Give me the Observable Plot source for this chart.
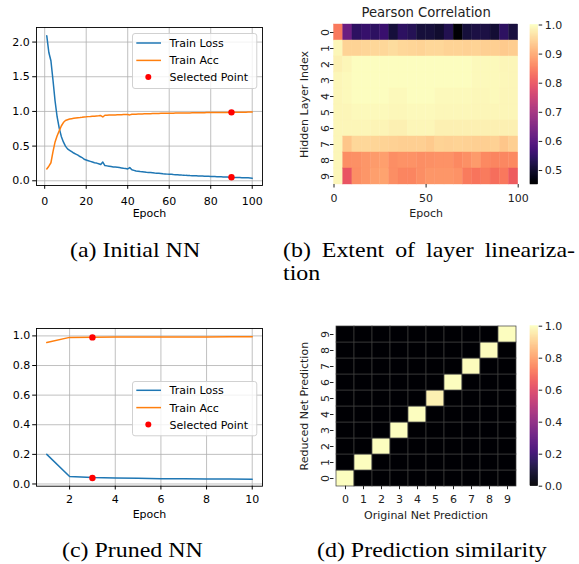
<!DOCTYPE html>
<html><head><meta charset="utf-8">
<script src="https://cdn.jsdelivr.net/npm/d3@7"></script>
<script src="https://cdn.jsdelivr.net/npm/@observablehq/plot@0.6"></script>
<style>
body{margin:0;background:#fff;}
#root{position:relative;width:579px;height:564px;overflow:hidden;background:#fff;}
.cap{position:absolute;font-family:"Liberation Serif";font-size:20.7px;line-height:21px;color:#000;white-space:nowrap;transform-origin:0 0;transform:scaleX(1.156);}
svg text{font-family:"DejaVu Sans";}
</style></head><body><div id="root"></div>
<script>
// ---------- data ----------
const lossA = [2.09,1.85,1.73,1.45,1.15,0.92,0.76,0.64,0.56,0.50,
  0.46,0.44,0.42,0.40,0.385,0.37,0.35,0.335,0.31,0.30,
  0.29,0.28,0.27,0.26,0.255,0.245,0.235,0.27,0.22,0.215,
  0.21,0.205,0.20,0.198,0.195,0.19,0.185,0.18,0.176,0.17,
  0.19,0.16,0.15,0.14,0.137,0.133,0.13,0.127,0.123,0.12,
  0.118,0.115,0.112,0.11,0.107,0.104,0.10,0.098,0.096,0.094,
  0.093,0.09,0.088,0.087,0.084,0.082,0.081,0.078,0.077,0.075,
  0.074,0.073,0.072,0.07,0.069,0.068,0.066,0.065,0.064,0.062,
  0.061,0.06,0.059,0.058,0.057,0.056,0.055,0.054,0.052,0.05,
  0.049,0.048,0.047,0.046,0.045,0.044,0.043,0.042,0.040,0.038];
const accA = [0.17,0.21,0.26,0.42,0.56,0.65,0.72,0.79,0.84,0.87,
  0.88,0.89,0.895,0.90,0.905,0.91,0.912,0.915,0.92,0.922,
  0.925,0.927,0.93,0.932,0.934,0.936,0.94,0.92,0.945,0.946,
  0.947,0.948,0.949,0.95,0.951,0.952,0.953,0.954,0.955,0.956,
  0.95,0.958,0.96,0.961,0.962,0.963,0.964,0.965,0.966,0.967,
  0.968,0.969,0.97,0.971,0.971,0.972,0.972,0.973,0.973,0.974,
  0.975,0.975,0.976,0.976,0.977,0.977,0.978,0.978,0.979,0.979,
  0.98,0.98,0.98,0.981,0.981,0.982,0.982,0.983,0.983,0.984,
  0.984,0.984,0.985,0.985,0.985,0.986,0.986,0.986,0.987,0.987,
  0.987,0.988,0.988,0.988,0.989,0.989,0.989,0.99,0.99,0.99];
const selectedA = [{epoch: 90, value: 0.987}, {epoch: 90, value: 0.05}];
const ticksAx = [0, 20, 40, 60, 80, 100];
const ticksAy = [0.0, 0.5, 1.0, 1.5, 2.0];

const epochsC = [1,2,3,4,5,6,7,8,9,10];
const lossC = [0.20,0.05,0.043,0.04,0.038,0.036,0.035,0.034,0.033,0.032];
const accC = [0.955,0.99,0.991,0.992,0.992,0.993,0.993,0.993,0.994,0.994];
const selectedC = [{epoch: 3, value: 0.99}, {epoch: 3, value: 0.04}];
const ticksCx = [2, 4, 6, 8, 10];
const ticksCy = [0.0, 0.2, 0.4, 0.6, 0.8, 1.0];

const epochBins = [0,5,10,15,20,25,30,35,40,45,50,55,60,65,70,75,80,85,90,95];
const layers = [0,1,2,3,4,5,6,7,8,9];
const pearson = [
  [0.847,0.627,0.545,0.556,0.545,0.56,0.51,0.545,0.534,0.51,0.51,0.50,0.53,0.452,0.51,0.52,0.52,0.505,0.545,0.515],
  [0.99,0.95,0.95,0.952,0.955,0.955,0.96,0.955,0.952,0.95,0.955,0.955,0.95,0.95,0.948,0.95,0.945,0.945,0.94,0.943],
  [0.985,0.99,0.998,0.998,1,1,1,1,1,1,1,1,0.998,0.998,0.998,0.995,0.995,0.995,0.99,0.99],
  [0.99,0.995,0.998,0.998,0.998,1,1,1,1,1,1,0.998,0.998,0.998,0.998,0.995,0.995,0.995,0.992,0.99],
  [0.99,0.995,0.998,0.998,0.998,0.998,0.995,0.995,0.998,0.998,0.998,0.995,0.995,0.995,0.995,0.992,0.992,0.995,0.99,0.99],
  [0.99,0.99,0.995,0.995,0.995,0.995,0.992,0.992,0.995,0.995,0.995,0.992,0.992,0.992,0.992,0.99,0.99,0.99,0.99,0.99],
  [0.99,0.99,0.99,0.99,0.988,0.988,0.985,0.985,0.99,0.99,0.99,0.985,0.985,0.985,0.985,0.985,0.985,0.985,0.985,0.985],
  [0.99,0.935,0.955,0.955,0.952,0.95,0.948,0.945,0.945,0.945,0.94,0.95,0.948,0.95,0.948,0.945,0.945,0.948,0.935,0.945],
  [0.99,0.87,0.872,0.88,0.885,0.89,0.87,0.875,0.875,0.87,0.872,0.875,0.875,0.865,0.872,0.885,0.865,0.86,0.862,0.865],
  [0.99,0.80,0.87,0.88,0.89,0.895,0.87,0.86,0.86,0.87,0.88,0.88,0.88,0.875,0.85,0.84,0.85,0.835,0.845,0.81]
];
const pearsonTicks = [0.5, 0.6, 0.7, 0.8, 0.9, 1.0];
const pearsonDomain = [0.452, 1.0];

const digits = [0,1,2,3,4,5,6,7,8,9];
const similarity = [ // rows: reduced prediction 0..9, cols: original prediction 0..9
  [1.0,0,0,0,0,0,0,0,0,0],
  [0,1.0,0,0,0,0,0,0,0,0],
  [0,0,1.0,0,0,0,0,0,0,0],
  [0,0,0,1.0,0,0,0,0,0,0],
  [0,0,0,0,1.0,0,0,0,0,0],
  [0,0,0,0,0,0.97,0,0,0,0],
  [0,0,0,0,0,0,1.0,0,0,0],
  [0,0,0,0,0,0,0,0.995,0,0],
  [0,0,0,0,0,0,0,0,0.995,0],
  [0,0,0,0,0,0,0,0,0,1.0]
];
const simTicks = [0.0, 0.2, 0.4, 0.6, 0.8, 1.0];
const simDomain = [0, 1];

const legendLabels = ["Train Loss", "Train Acc", "Selected Point"];
const captions = ["(a) Initial NN", "(b) Extent of layer lineariza-", "tion", "(c) Pruned NN", "(d) Prediction similarity"];

// ---------- helpers ----------
const root = document.getElementById("root");
function place(node, left, top) {
  node.style.position = "absolute";
  node.style.left = left + "px";
  node.style.top = top + "px";
  root.appendChild(node);
}
const baseStyle = {fontFamily: "DejaVu Sans", fontSize: "11px", background: "transparent", color: "#000", overflow: "visible"};
const BLUE = "#1f77b4", ORANGE = "#ff7f0e";
const fmt1 = d3.format(".1f");

function lineChart({loss, acc, epochs, sel, xDomain, yDomain, xt, yt, mt, mb, xPad, yPad, labelDy}) {
  const rows = epochs.map((e, i) => ({epoch: e, loss: loss[i], acc: acc[i]}));
  return Plot.plot({
    width: 270, height: 225, marginLeft: 36, marginRight: 8, marginTop: mt, marginBottom: mb,
    style: baseStyle,
    x: {domain: xDomain}, y: {domain: yDomain},
    marks: [
      Plot.gridX(xt, {stroke: "#b0b0b0", strokeOpacity: 1, strokeWidth: 0.8}),
      Plot.gridY(yt, {stroke: "#b0b0b0", strokeOpacity: 1, strokeWidth: 0.8}),
      Plot.lineY(rows, {x: "epoch", y: "loss", stroke: BLUE, strokeWidth: 1.5}),
      Plot.lineY(rows, {x: "epoch", y: "acc", stroke: ORANGE, strokeWidth: 1.5}),
      Plot.dot(sel, {x: "epoch", y: "value", fill: "red", r: 3.2}),
      Plot.frame({stroke: "#000", strokeWidth: 0.9}),
      Plot.axisX(xt, {tickSize: 3.8, tickPadding: xPad, label: null, tickFormat: d => String(d)}),
      Plot.axisY(yt, {tickSize: 3.8, tickPadding: yPad, label: null, tickFormat: fmt1}),
      Plot.text(["Epoch"], {frameAnchor: "bottom", lineAnchor: "middle", dy: labelDy, fontSize: 11})
    ]
  });
}

function legendBox(left, top, w, h, ys) {
  const ns = "http://www.w3.org/2000/svg";
  const svg = document.createElementNS(ns, "svg");
  svg.setAttribute("width", w + 2); svg.setAttribute("height", h + 2);
  const lx = 4.3, lx2 = 29, tx = 37.6, dx = 16.3;
  let s = `<rect x="0.5" y="0.5" width="${w}" height="${h}" rx="2.5" fill="rgba(255,255,255,0.8)" stroke="#cccccc" stroke-width="0.9"/>`;
  s += `<line x1="${lx}" x2="${lx2}" y1="${ys[0]}" y2="${ys[0]}" stroke="${BLUE}" stroke-width="1.5"/>`;
  s += `<line x1="${lx}" x2="${lx2}" y1="${ys[1]}" y2="${ys[1]}" stroke="${ORANGE}" stroke-width="1.5"/>`;
  s += `<circle cx="${dx}" cy="${ys[2]}" r="3" fill="red"/>`;
  legendLabels.forEach((t, i) => {
    s += `<text x="${tx}" y="${ys[i]}" dy="0.36em" font-size="11" fill="#000">${t}</text>`;
  });
  svg.innerHTML = s;
  place(svg, left, top);
}

function heatmap({cells, xOpt, yDomain, colorDomain, mt, mb, xAxis, yLabel, xLabel, title}) {
  const marks = [
    cells.mark,
    xAxis,
    Plot.axisY(yDomain, {tickSize: 3.5, tickPadding: 2, tickRotate: -90, label: null}),
    Plot.text([xLabel], {frameAnchor: "bottom", lineAnchor: "middle", dy: 29, fontSize: 11}),
    Plot.text([yLabel], {frameAnchor: "left", textAnchor: "middle", lineAnchor: "middle", rotate: -90, dx: -30, fontSize: 11})
  ];
  if (title) marks.push(Plot.text([title], {frameAnchor: "top", lineAnchor: "middle", dy: -12, fontSize: 13.2}));
  return Plot.plot({
    width: 235, height: 225, marginLeft: 43.5, marginRight: 7.3, marginTop: mt, marginBottom: mb,
    style: {...baseStyle, color: "#222"},
    x: xOpt,
    y: {type: "band", domain: yDomain, padding: 0},
    color: {type: "linear", scheme: "magma", domain: colorDomain},
    marks
  });
}

function colorbar(domain, ticks, mt, mb) {
  const n = 160, [a, b] = domain;
  const steps = d3.range(n).map(i => ({y1: a + (b - a) * i / n, y2: a + (b - a) * (i + 1) / n}));
  return Plot.plot({
    width: 54, height: 225, marginLeft: 5, marginRight: 41.3, marginTop: mt, marginBottom: mb,
    style: {...baseStyle, color: "#222"},
    x: {domain: [0, 1], axis: null},
    y: {domain},
    color: {type: "linear", scheme: "magma", domain},
    marks: [
      Plot.rect(steps, {x1: 0, x2: 1, y1: "y1", y2: "y2", fill: d => (d.y1 + d.y2) / 2, stroke: d => (d.y1 + d.y2) / 2, strokeWidth: 0.5}),
      Plot.axisY(ticks, {anchor: "right", tickSize: 3.5, tickPadding: 3, label: null, tickFormat: fmt1})
    ]
  });
}

// ---------- (a) ----------
place(lineChart({loss: lossA, acc: accA, epochs: lossA.map((_, i) => i + 1), sel: selectedA,
  xDomain: [-3.95, 104.95], yDomain: [-0.068, 2.21], xt: ticksAx, yt: ticksAy,
  mt: 27, mb: 40, xPad: 7.5, yPad: 3, labelDy: 28}), 0, 0);
legendBox(131.7, 33.3, 124.3, 55, [10, 27.4, 44]);

// ---------- (b) ----------
const cellsB = layers.flatMap((l, i) => epochBins.map((e, j) => ({layer: l, x1: e, x2: e + 5, r: pearson[i][j]})));
place(heatmap({
  cells: {mark: Plot.barX(cellsB, {x1: "x1", x2: "x2", y: "layer", fill: "r", stroke: "r", strokeWidth: 0.4})},
  xOpt: {domain: [0, 100]}, yDomain: layers, colorDomain: pearsonDomain, mt: 24, mb: 41,
  xAxis: Plot.axisX([0, 50, 100], {tickSize: 3.5, tickPadding: 6.5, label: null}),
  yLabel: "Hidden Layer Index", xLabel: "Epoch", title: "Pearson Correlation"
}), 290, 0);
place(colorbar(pearsonDomain, pearsonTicks, 24.5, 41), 525, 0);

// ---------- (c) ----------
place(lineChart({loss: lossC, acc: accC, epochs: epochsC, sel: selectedC,
  xDomain: [0.55, 10.45], yDomain: [-0.015, 1.05], xt: ticksCx, yt: ticksCy,
  mt: 18, mb: 49.3, xPad: 5.5, yPad: 2.5, labelDy: 28.3}), 0, 310);
legendBox(131.7, 380.7, 124.3, 54.3, [9.3, 26.6, 43.6]);

// ---------- (d) ----------
const cellsD = digits.flatMap((r, i) => digits.map((o, j) => ({red: r, orig: o, v: similarity[i][j]})));
place(heatmap({
  cells: {mark: Plot.cell(cellsD, {x: "orig", y: "red", fill: "v", stroke: "#3d3d3d", strokeWidth: 0.7})},
  xOpt: {type: "band", domain: digits, padding: 0}, yDomain: digits.slice().reverse(), colorDomain: simDomain,
  mt: 15.7, mb: 49.3,
  xAxis: Plot.axisX(digits, {tickSize: 3.5, tickPadding: 5.5, label: null}),
  yLabel: "Reduced Net Prediction", xLabel: "Original Net Prediction", title: null
}), 290, 310);
place(colorbar(simDomain, simTicks, 15.7, 49.3), 525, 310);

// ---------- captions ----------
function caption(text, left, baseline, extra) {
  const d = document.createElement("div");
  d.className = "cap";
  d.textContent = text;
  d.style.left = left + "px";
  d.style.top = (baseline - 17.5) + "px";
  if (extra) Object.assign(d.style, extra);
  root.appendChild(d);
}
caption(captions[0], 70, 257.3);
caption(captions[1], 283.3, 257.3, {width: (292 / 1.156) + "px", textAlign: "justify", textAlignLast: "justify"});
caption(captions[2], 283.3, 280.5);
caption(captions[3], 62, 557);
caption(captions[4], 317, 557);
</script></body></html>
